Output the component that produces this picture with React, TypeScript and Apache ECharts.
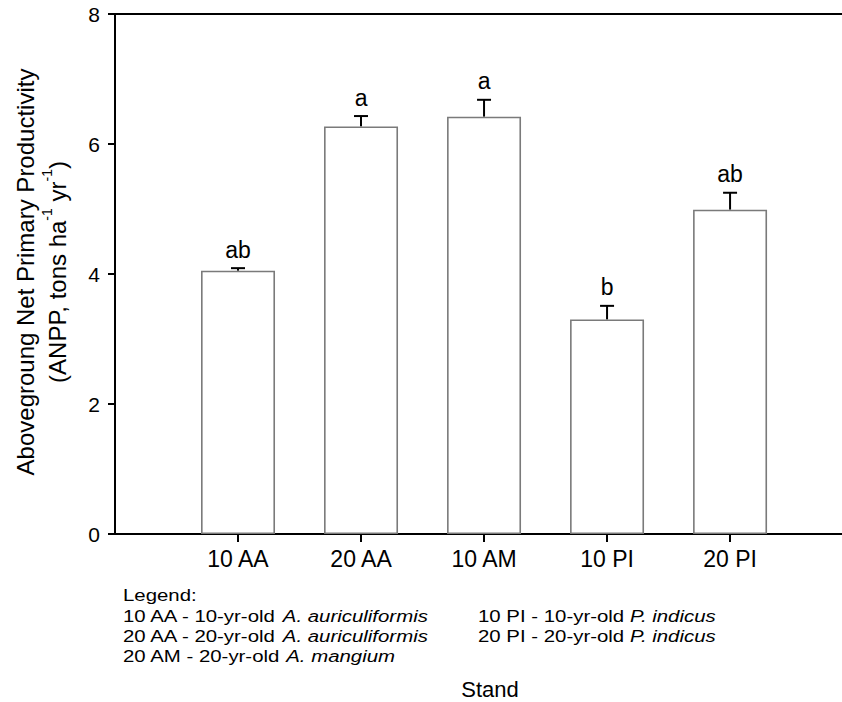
import React, { useEffect, useRef } from "react";
import * as echarts from "echarts";

const categories = ["10 AA", "20 AA", "10 AM", "10 PI", "20 PI"];
const positions = [1, 2, 3, 4, 5];
const anpp = [4.05, 6.27, 6.42, 3.3, 4.99];
const stdErr = [0.04, 0.16, 0.26, 0.21, 0.26];
const letters = ["ab", "a", "a", "b", "ab"];
const yTicks = [0, 2, 4, 6, 8];
const legendTitle = "Legend:";
const legendLeftPlain = ["10 AA - 10-yr-old ", "20 AA - 20-yr-old ", "20 AM - 20-yr-old "];
const legendLeftItalic = ["A. auriculiformis", "A. auriculiformis", "A. mangium"];
const legendRightPlain = ["10 PI - 10-yr-old ", "20 PI - 20-yr-old "];
const legendRightItalic = ["P. indicus", "P. indicus"];
const yTitleLine1 = "Abovegroung Net Primary Productivity";
const xTitle = "Stand";

const FONT = "'Liberation Sans', Arial, sans-serif";

export default function App() {
  const ref = useRef<HTMLDivElement>(null);
  useEffect(() => {
    if (!ref.current) return;
    const chart = echarts.init(ref.current, null, { renderer: "svg" });
    const xMax = 5.91;
    const legendFont = 17;
    const legendScale = 1.2;
    const richLegend = {
      it: { fontStyle: "italic", fontSize: legendFont, fontFamily: FONT, color: "#000" },
      n: { fontSize: legendFont, fontFamily: FONT, color: "#000" },
    };
    const legendEls: any[] = [];
    legendEls.push({
      type: "text",
      x: 123,
      y: 595,
      scaleX: legendScale,
      style: {
        text: legendTitle,
        fontSize: legendFont,
        fontFamily: FONT,
        fill: "#000",
        textAlign: "left",
        textVerticalAlign: "middle",
      },
    });
    legendLeftPlain.forEach((p, i) => {
      legendEls.push({
        type: "text",
        x: 123,
        y: 616 + 20 * i,
        scaleX: legendScale,
        style: {
          text: "{n|" + p + "}{it|" + legendLeftItalic[i] + "}",
          rich: richLegend,
          fontSize: legendFont,
          fontFamily: FONT,
          fill: "#000",
          textAlign: "left",
          textVerticalAlign: "middle",
        },
      });
    });
    legendRightPlain.forEach((p, i) => {
      legendEls.push({
        type: "text",
        x: 478,
        y: 616 + 20 * i,
        scaleX: legendScale,
        style: {
          text: "{n|" + p + "}{it|" + legendRightItalic[i] + "}",
          rich: richLegend,
          fontSize: legendFont,
          fontFamily: FONT,
          fill: "#000",
          textAlign: "left",
          textVerticalAlign: "middle",
        },
      });
    });

    const option: any = {
      animation: false,
      backgroundColor: "#fff",
      grid: { left: 115, right: 0, top: 14, bottom: 168 },
      xAxis: [
        {
          type: "value",
          min: 0,
          max: xMax,
          splitLine: { show: false },
          axisLine: { show: true, onZero: false, lineStyle: { color: "#000", width: 2 } },
          axisTick: {
            show: true,
            customValues: positions,
            length: 8,
            lineStyle: { color: "#000", width: 2 },
          },
          axisLabel: {
            customValues: positions,
            formatter: (v: number) => categories[Math.round(v) - 1] ?? "",
            fontSize: 23,
            fontFamily: FONT,
            color: "#000",
            margin: 13,
          },
        },
        {
          type: "value",
          position: "top",
          min: 0,
          max: xMax,
          splitLine: { show: false },
          axisLine: { show: true, onZero: false, lineStyle: { color: "#000", width: 2 } },
          axisTick: { show: false },
          axisLabel: { show: false },
        },
      ],
      yAxis: {
        type: "value",
        min: yTicks[0],
        max: yTicks[yTicks.length - 1],
        interval: 2,
        splitLine: { show: false },
        axisLine: { show: true, lineStyle: { color: "#000", width: 2 } },
        axisTick: { show: true, length: 7, lineStyle: { color: "#000", width: 2 } },
        axisLabel: { fontSize: 21, fontFamily: FONT, color: "#000", margin: 15 },
      },
      series: [
        {
          type: "bar",
          data: positions.map((p, i) => [p, anpp[i]]),
          barWidth: 74,
          itemStyle: { color: "#ffffff", borderColor: "#7a7a7a", borderWidth: 1.6 },
          silent: true,
        },
        {
          type: "custom",
          data: positions.map((p, i) => [p, anpp[i], stdErr[i]]),
          renderItem: (params: any, api: any) => {
            const x = api.value(0);
            const y = api.value(1);
            const e = api.value(2);
            const p0 = api.coord([x, y]);
            const p1 = api.coord([x, y + e]);
            return {
              type: "group",
              children: [
                {
                  type: "line",
                  shape: { x1: p0[0], y1: p0[1], x2: p1[0], y2: p1[1] },
                  style: { stroke: "#000", lineWidth: 2 },
                },
                {
                  type: "line",
                  shape: { x1: p1[0] - 7, y1: p1[1], x2: p1[0] + 7, y2: p1[1] },
                  style: { stroke: "#000", lineWidth: 2 },
                },
                {
                  type: "text",
                  x: p1[0],
                  y: p1[1] - 7,
                  style: {
                    text: letters[params.dataIndex],
                    fontSize: 23,
                    fontFamily: FONT,
                    fill: "#000",
                    textAlign: "center",
                    textVerticalAlign: "bottom",
                  },
                },
              ],
            };
          },
        },
      ],
      graphic: [
        {
          type: "text",
          x: 37,
          y: 272,
          rotation: Math.PI / 2,
          style: {
            text: "{n|" + yTitleLine1 + "}\n{n|(ANPP, tons ha}{s|-1}{n| yr}{s|-1}{n|)}",
            rich: {
              n: { fontSize: 24, fontFamily: FONT, color: "#000", lineHeight: 32, verticalAlign: "bottom" },
              s: { fontSize: 14, fontFamily: FONT, color: "#000", lineHeight: 32, verticalAlign: "top", padding: [3, 0, 0, 0] },
            },
            fill: "#000",
            textAlign: "center",
            textVerticalAlign: "middle",
          },
        },
        {
          type: "text",
          x: 490,
          y: 689,
          style: {
            text: xTitle,
            fontSize: 22,
            fontFamily: FONT,
            fill: "#000",
            textAlign: "center",
            textVerticalAlign: "middle",
          },
        },
        ...legendEls,
      ],
    };
    chart.setOption(option);
    return () => chart.dispose();
  }, []);
  return (
    <div
      ref={ref}
      style={{ position: "fixed", left: 0, top: 0, width: 842, height: 702, background: "#fff" }}
    />
  );
}
